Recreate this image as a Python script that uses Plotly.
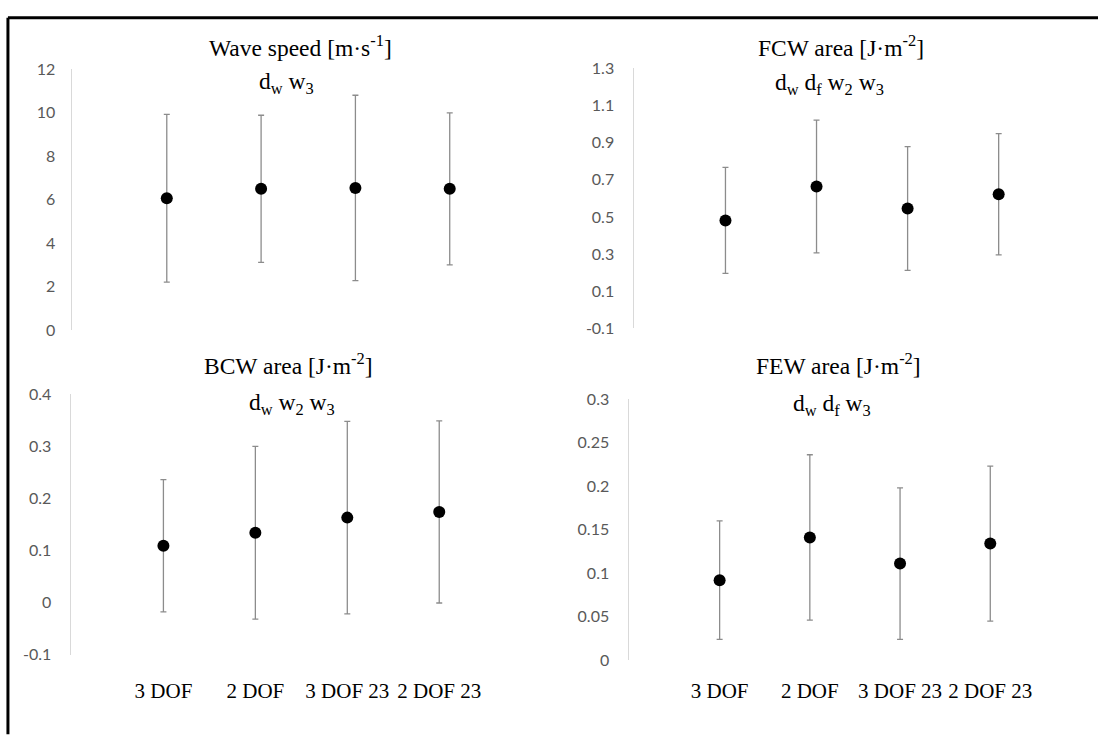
import plotly.graph_objects as go

# Categories shared by all four panels
categories = ["3 DOF", "2 DOF", "3 DOF 23", "2 DOF 23"]

# Wave speed [m/s]: mean and error
wave_speed = [6.07, 6.50, 6.54, 6.50]
wave_speed_err = [3.85, 3.38, 4.26, 3.49]

# FCW area [J/m^2]
fcw_area = [0.481, 0.664, 0.545, 0.622]
fcw_area_err = [0.285, 0.357, 0.333, 0.326]

# BCW area [J/m^2]
bcw_area = [0.109, 0.134, 0.163, 0.174]
bcw_area_err = [0.127, 0.166, 0.185, 0.175]

# FEW area [J/m^2]
few_area = [0.092, 0.141, 0.111, 0.134]
few_area_err = [0.068, 0.095, 0.087, 0.089]

# Y tick labels per panel
ws_ticks = [0, 2, 4, 6, 8, 10, 12]
ws_ticktext = ["0", "2", "4", "6", "8", "10", "12"]
fcw_ticks = [-0.1, 0.1, 0.3, 0.5, 0.7, 0.9, 1.1, 1.3]
fcw_ticktext = ["-0.1", "0.1", "0.3", "0.5", "0.7", "0.9", "1.1", "1.3"]
bcw_ticks = [-0.1, 0, 0.1, 0.2, 0.3, 0.4]
bcw_ticktext = ["-0.1", "0", "0.1", "0.2", "0.3", "0.4"]
few_ticks = [0, 0.05, 0.1, 0.15, 0.2, 0.25, 0.3]
few_ticktext = ["0", "0.05", "0.1", "0.15", "0.2", "0.25", "0.3"]

# Layout grid (1106 x 752 units); the figure itself is sized so that it fits
# inside the page body together with the body's default 8px margin.
GRID_W, GRID_H = 1106, 752
FIG_W, FIG_H = GRID_W - 8, GRID_H - 16


def px_x(p):
    """Grid unit from the left -> paper x."""
    return p / GRID_W


def px_y(p):
    """Grid unit from the top -> paper y."""
    return 1 - p / GRID_H


positions = list(range(len(categories)))

panels = [
    # values, errors, ticks, ticktext, y range, x span, y span, x labels, label standoff, y standoff
    (wave_speed, wave_speed_err, ws_ticks, ws_ticktext, [0, 12], (73, 510), (336, 62), False, 20, 13),
    (fcw_area, fcw_area_err, fcw_ticks, fcw_ticktext, [-0.1, 1.3], (639, 1061), (334, 61), False, 20, 16),
    (bcw_area, bcw_area_err, bcw_ticks, bcw_ticktext, [-0.1, 0.4], (72, 498), (676, 403), True, 21, 16),
    (few_area, few_area_err, few_ticks, few_ticktext, [0, 0.3], (634, 1052), (682, 408), True, 16, 16),
]

fig = go.Figure()
layout = {}
for i, (vals, errs, tv, tt, yr, xd, yd, show_x, xso, yso) in enumerate(panels, start=1):
    sx = "" if i == 1 else str(i)
    fig.add_trace(go.Scatter(
        x=positions, y=vals,
        mode="markers",
        marker=dict(color="black", size=12),
        error_y=dict(type="data", array=errs, visible=True,
                     color="#8c8c8c", thickness=1.3, width=3),
        xaxis="x" + sx, yaxis="y" + sx,
        showlegend=False, cliponaxis=False,
    ))
    layout["xaxis" + sx] = dict(
        domain=[px_x(xd[0]), px_x(xd[1])],
        range=[-1, 3.6],
        anchor="y" + sx,
        tickvals=positions,
        ticktext=categories,
        showticklabels=show_x,
        showline=False, showgrid=False, zeroline=False, ticks="",
        ticklabelstandoff=xso,
        tickfont=dict(family="Liberation Serif", size=21, color="black"),
    )
    layout["yaxis" + sx] = dict(
        domain=[px_y(yd[0]), px_y(yd[1])],
        range=yr,
        anchor="x" + sx,
        tickvals=tv, ticktext=tt,
        showline=True, linecolor="#d9d9d9", linewidth=1,
        showgrid=False, zeroline=False, ticks="",
        ticklabelstandoff=yso,
        tickfont=dict(family="Lato", size=16, color="#595959"),
    )

titles = [
    ("Wave speed [m·s<sup>-1</sup>]", 303, 38),
    ("d<sub>w</sub> w<sub>3</sub>", 289, 77),
    ("FCW area [J·m<sup>-2</sup>]", 847, 38),
    ("d<sub>w</sub> d<sub>f</sub> w<sub>2</sub> w<sub>3</sub>", 836, 78),
    ("BCW area [J·m<sup>-2</sup>]", 291, 371),
    ("d<sub>w</sub> w<sub>2</sub> w<sub>3</sub>", 294, 413),
    ("FEW area [J·m<sup>-2</sup>]", 845, 371),
    ("d<sub>w</sub> d<sub>f</sub> w<sub>3</sub>", 838, 414),
]
annotations = [
    dict(text=t, x=px_x(x), y=px_y(y), xref="paper", yref="paper",
         xanchor="center", yanchor="middle", showarrow=False,
         font=dict(family="Liberation Serif", size=23.5, color="black"))
    for t, x, y in titles
]

# Frame along the top and left edges
shapes = [
    dict(type="line", xref="paper", yref="paper",
         x0=px_x(8), y0=-0.01, x1=px_x(8), y1=px_y(8),
         line=dict(color="black", width=3)),
    dict(type="line", xref="paper", yref="paper",
         x0=px_x(8), y0=px_y(8), x1=1.01, y1=px_y(8),
         line=dict(color="black", width=3)),
]

fig.update_layout(
    width=FIG_W, height=FIG_H,
    margin=dict(l=0, r=0, t=0, b=0),
    paper_bgcolor="white", plot_bgcolor="white",
    annotations=annotations, shapes=shapes,
    **layout,
)

fig.write_html("out.html")
